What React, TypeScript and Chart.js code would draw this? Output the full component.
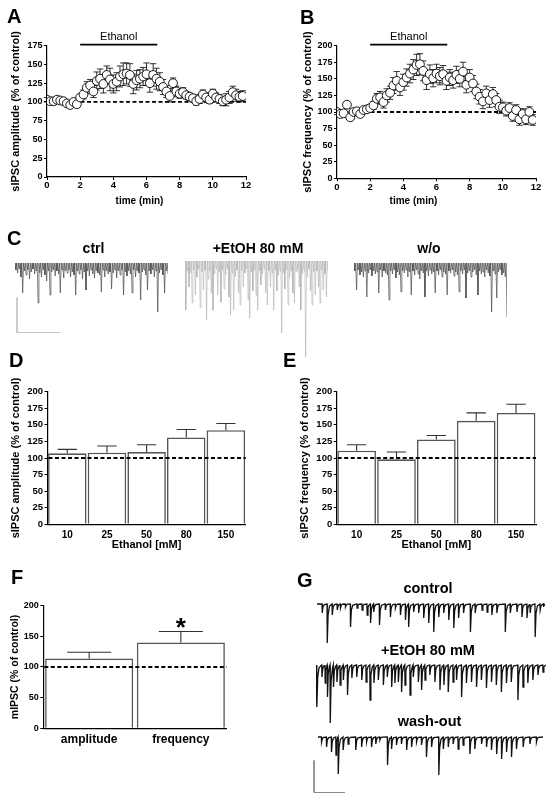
import React, { useEffect, useRef } from "react";
import { Chart, registerables } from "chart.js";

Chart.register(...registerables);

const FONT = "'Liberation Sans', Arial, Helvetica, sans-serif";
Chart.defaults.font.family = FONT;
Chart.defaults.color = "#000";

// ---------------- Panels A & B : time course ----------------
const timeMin = [
  0, 0.2, 0.4, 0.6, 0.8, 1.0, 1.2, 1.4, 1.6, 1.8,
  2.0, 2.2, 2.4, 2.6, 2.8, 3.0, 3.2, 3.4, 3.6, 3.8,
  4.0, 4.2, 4.4, 4.6, 4.8, 5.0, 5.2, 5.4, 5.6, 5.8,
  6.0, 6.2, 6.4, 6.6, 6.8, 7.0, 7.2, 7.4, 7.6, 7.8,
  8.0, 8.2, 8.4, 8.6, 8.8, 9.0, 9.2, 9.4, 9.6, 9.8,
  10.0, 10.2, 10.4, 10.6, 10.8, 11.0, 11.2, 11.4, 11.6, 11.8,
];
const ampPct = [
  103, 101, 101, 103, 102, 101, 98, 96, 100, 97,
  106, 110, 119, 122, 114, 128, 131, 124, 136, 130,
  124, 127, 134, 137, 138, 136, 124, 129, 131, 134,
  137, 125, 136, 131, 127, 120, 114, 108, 125, 114,
  111, 113, 109, 107, 105, 101, 104, 110, 106, 103,
  111, 106, 104, 101, 103, 106, 113, 109, 107, 108,
];
const ampSem = [
  3, 3, 3, 3, 3, 3, 3, 3, 3, 3,
  4, 6, 8, 8, 8, 12, 13, 12, 12, 15,
  12, 12, 14, 15, 14, 15, 13, 13, 12, 12,
  15, 12, 15, 14, 12, 10, 8, 8, 7, 7,
  6, 6, 5, 5, 5, 5, 6, 6, 6, 5,
  6, 6, 6, 6, 8, 8, 8, 8, 7, 7,
];
const freqPct = [
  100, 97, 98, 111, 92, 100, 101, 97, 103, 104,
  106, 110, 120, 122, 115, 125, 129, 140, 147, 137,
  145, 152, 158, 164, 171, 172, 162, 148, 157, 151,
  158, 154, 157, 147, 152, 148, 156, 150, 161, 141,
  152, 143, 131, 123, 116, 128, 118, 127, 118, 108,
  107, 102, 106, 94, 103, 89, 97, 89, 100, 88,
];
const freqSem = [
  4, 4, 4, 5, 4, 4, 4, 4, 4, 4,
  5, 6, 8, 9, 9, 10, 10, 12, 14, 12,
  12, 13, 14, 15, 16, 16, 15, 14, 14, 13,
  14, 13, 13, 13, 12, 12, 13, 12, 14, 12,
  12, 12, 11, 11, 11, 11, 11, 10, 10, 10,
  8, 8, 8, 8, 8, 9, 8, 8, 8, 8,
];
const ethanolOn = 2.0;
const ethanolOff = 6.65;

// ---------------- Panels D & E : concentration ----------------
const ethanolConc = ["10", "25", "50", "80", "150"];
const ampByConc = [107, 108, 109, 131, 142];
const ampByConcSem = [6, 10, 11, 12, 10];
const freqByConc = [111, 98, 128, 156, 168];
const freqByConcSem = [9, 11, 6, 12, 13];

// ---------------- Panel F : mIPSC ----------------
const mipscParams = ["amplitude", "frequency"];
const mipscPct = [114, 140];
const mipscSem = [10, 18];
const mipscSig = ["", "*"];

// ---------------- Panel C : raw traces (event depth per slot) ----------------
const ctrlDepths = [
  5, 8, 4, 12, 28, 6, 10, 5, 14, 7,
  4, 9, 6, 38, 8, 12, 5, 10, 16, 6,
  30, 7, 5, 11, 6, 9, 28, 5, 13, 6,
  8, 5, 12, 7, 10, 30, 6, 9, 5, 14,
  7, 25, 6, 11, 5, 9, 13, 6, 8, 10,
  27, 5, 12, 6, 9, 7, 24, 8, 5, 13,
  6, 10, 5, 30, 7, 11, 6, 9, 28, 5,
  12, 6, 8, 35, 7, 5, 10, 25, 6, 9,
  5, 12, 6, 47, 8, 5, 10, 28, 6, 9,
];
const etohDepths = [
  45, 6, 22, 8, 38, 5, 30, 12, 4, 43,
  7, 25, 5, 55, 14, 6, 28, 45, 9, 4,
  30, 7, 37, 5, 24, 10, 4, 32, 50, 8,
  45, 12, 5, 28, 40, 6, 22, 8, 4, 35,
  53, 7, 26, 5, 30, 45, 6, 20, 9, 4,
  28, 40, 6, 22, 8, 45, 5, 26, 10, 6,
  68, 8, 24, 5, 40, 12, 6, 28, 38, 7,
  5, 22, 45, 9, 6, 92, 12, 4, 26, 40,
  7, 30, 6, 22, 38, 5, 25, 9, 32, 6,
];
const washDepths = [
  6, 25, 5, 10, 7, 12, 6, 32, 8, 5,
  11, 6, 9, 7, 28, 5, 12, 6, 8, 10,
  35, 6, 9, 5, 13, 7, 10, 27, 6, 8,
  5, 12, 7, 30, 6, 10, 5, 9, 14, 6,
  8, 32, 6, 11, 5, 9, 7, 28, 6, 10,
  5, 12, 7, 9, 30, 6, 8, 5, 11, 7,
  10, 27, 6, 9, 5, 33, 8, 6, 12, 7,
  5, 10, 30, 6, 9, 7, 12, 5, 8, 11,
  47, 6, 9, 33, 7, 5, 10, 8, 12, 52,
];
const cScaleBar = { amp: 35, dur: 43 };

// ---------------- Panel G : raw traces ([time, amplitude]) ----------------
const gControlEvents: [number, number][] = [
  [2.2, 9], [4.4, 39], [6.6, 11], [8.8, 6], [10.2, 4], [12.4, 3], [14.6, 23], [17.5, 4],
  [19.7, 6], [21.9, 11], [23.4, 19], [24.8, 8], [27.3, 21], [29.9, 6], [32.1, 13], [34.3, 4],
  [36.5, 11], [38.7, 16], [40.1, 23], [42.3, 8], [44.5, 9], [46.7, 14], [48.9, 19], [51.1, 28],
  [53.3, 13], [55.5, 9], [57.7, 16], [59.9, 24], [62, 14], [64.2, 9], [67.2, 28], [69.3, 9],
  [72.3, 6], [74.5, 8], [76.6, 11], [78.8, 9], [82.5, 28], [84.7, 9], [87.6, 8], [89.8, 13],
  [92, 14], [93.4, 9], [95.6, 33], [97.8, 6], [99.3, 3],
];
const gEtohEvents: [number, number][] = [
  [0.3, 42], [2.5, 12], [3.9, 18], [4.9, 32], [6.1, 58], [7.5, 22], [9, 17], [10.4, 20],
  [11.8, 15], [13.6, 30], [15.5, 13], [17.6, 12], [19.8, 15], [21.7, 17], [23.4, 35], [25.1, 18],
  [27, 15], [29.2, 20], [30.9, 12], [32.8, 22], [34.2, 18], [35.7, 17], [37.1, 27], [38.6, 20],
  [40.8, 30], [42.2, 12], [44.4, 17], [45.8, 25], [47.3, 15], [49.4, 10], [51.6, 17], [53.8, 25],
  [55.5, 20], [57.4, 27], [59.5, 17], [61, 15], [63.2, 32], [65.3, 18], [67.5, 17], [69.7, 22],
  [71.8, 15], [74, 23], [76.2, 17], [78.3, 20], [80.5, 27], [82.7, 18], [84.8, 17], [87.7, 35],
  [89.9, 22], [92, 18], [94.2, 15], [96.4, 10], [98.6, 7],
];
const gWashEvents: [number, number][] = [
  [1.5, 5], [3.7, 10], [5.9, 15], [7.9, 18], [8.9, 37], [11.1, 13], [13.3, 7], [16.7, 13],
  [19.3, 10], [21.5, 5], [23.7, 10], [25.6, 7], [27.4, 3], [30.8, 28], [32.6, 12], [34.8, 8],
  [37, 7], [39.3, 13], [41.5, 10], [43.7, 5], [45.9, 8], [48.1, 20], [50.4, 10], [53.6, 38],
  [55.6, 12], [57.8, 10], [60, 7], [62.2, 12], [64.4, 8], [67.4, 17], [69.6, 12], [72.6, 7],
  [74.8, 10], [77, 13], [79.3, 17], [81.5, 22], [83.7, 15], [85.9, 20], [88.1, 12], [91.1, 10],
  [94.1, 7], [97, 5],
];
const gScaleBar = { amp: 32, dur: 31 };

// ---------------- helpers ----------------
function valueOf(d: any) {
  return typeof d === "number" ? d : d.y;
}

function drawErrors(chart: any, o: any) {
  const ctx = chart.ctx;
  const ys = chart.scales.y;
  const ds = chart.data.datasets[0];
  const meta = chart.getDatasetMeta(0);
  ctx.save();
  ctx.strokeStyle = o.color || "#000";
  ctx.lineWidth = o.width || 1;
  meta.data.forEach((el: any, i: number) => {
    const v = valueOf(ds.data[i]);
    const e = o.errors[i];
    const x = el.x;
    const yTop = ys.getPixelForValue(v + e);
    const yBot = o.mode === "both" ? ys.getPixelForValue(v - e) : ys.getPixelForValue(v);
    const cap = o.capFrac ? el.width * o.capFrac : o.cap;
    ctx.beginPath();
    ctx.moveTo(x, yBot);
    ctx.lineTo(x, yTop);
    ctx.moveTo(x - cap, yTop);
    ctx.lineTo(x + cap, yTop);
    if (o.mode === "both") {
      ctx.moveTo(x - cap, yBot);
      ctx.lineTo(x + cap, yBot);
    }
    ctx.stroke();
  });
  ctx.restore();
}

function drawRef(chart: any, o: any) {
  const ctx = chart.ctx;
  const y = chart.scales.y.getPixelForValue(o.value);
  const a = chart.chartArea;
  ctx.save();
  ctx.strokeStyle = "#000";
  ctx.lineWidth = o.width || 1.8;
  ctx.setLineDash(o.dash || [4, 2.5]);
  ctx.beginPath();
  ctx.moveTo(a.left + 1, y);
  ctx.lineTo(a.right, y);
  ctx.stroke();
  ctx.restore();
}

const errorBars = {
  id: "errorBars",
  beforeDatasetsDraw(chart: any, _a: any, o: any) {
    if (o && o.errors && o.layer === "before") drawErrors(chart, o);
  },
  afterDatasetsDraw(chart: any, _a: any, o: any) {
    if (o && o.errors && o.layer !== "before") drawErrors(chart, o);
  },
};

const refLine = {
  id: "refLine",
  beforeDatasetsDraw(chart: any, _a: any, o: any) {
    if (o && o.value !== undefined && o.layer === "before") drawRef(chart, o);
  },
  afterDatasetsDraw(chart: any, _a: any, o: any) {
    if (o && o.value !== undefined && o.layer !== "before") drawRef(chart, o);
  },
};

const treatmentBar = {
  id: "treatmentBar",
  afterDraw(chart: any, _a: any, o: any) {
    if (!o || o.from === undefined) return;
    const ctx = chart.ctx;
    const xs = chart.scales.x;
    const x1 = xs.getPixelForValue(o.from);
    const x2 = xs.getPixelForValue(o.to);
    const y = chart.chartArea.top - 1;
    ctx.save();
    ctx.strokeStyle = "#000";
    ctx.lineWidth = 1.7;
    ctx.beginPath();
    ctx.moveTo(x1, y);
    ctx.lineTo(x2, y);
    ctx.stroke();
    ctx.fillStyle = "#000";
    ctx.font = `11px ${FONT}`;
    ctx.textAlign = "center";
    ctx.textBaseline = "middle";
    ctx.fillText(o.label, (x1 + x2) / 2, y - 7.5);
    ctx.restore();
  },
};

const sigMarks = {
  id: "sigMarks",
  afterDatasetsDraw(chart: any, _a: any, o: any) {
    if (!o || !o.marks) return;
    const ctx = chart.ctx;
    const ys = chart.scales.y;
    const ds = chart.data.datasets[0];
    const meta = chart.getDatasetMeta(0);
    ctx.save();
    ctx.fillStyle = "#000";
    ctx.font = `bold 26px ${FONT}`;
    ctx.textAlign = "center";
    ctx.textBaseline = "alphabetic";
    meta.data.forEach((el: any, i: number) => {
      const m = o.marks[i];
      if (!m) return;
      const top = ys.getPixelForValue(valueOf(ds.data[i]) + o.errors[i]);
      const tm = ctx.measureText(m);
      const asc = tm.actualBoundingBoxAscent;
      const desc = tm.actualBoundingBoxDescent;
      const centerY = top - 8.5;
      const baseline = centerY + (asc - desc) / 2;
      ctx.fillText(m, el.x, baseline);
    });
    ctx.restore();
  },
};

function yAxis(p: {
  max: number;
  step: number;
  width: number;
  title: string;
  titleSize: number;
  titlePad: number;
  tickSize: number;
}) {
  return {
    type: "linear",
    min: 0,
    max: p.max,
    ticks: {
      stepSize: p.step,
      font: { size: p.tickSize, weight: "bold" },
      color: "#000",
      padding: 1.5,
    },
    grid: { drawOnChartArea: false, drawTicks: true, tickLength: 3, color: "#000", lineWidth: 1 },
    border: { display: true, color: "#000", width: 1.2 },
    title: {
      display: true,
      text: p.title,
      color: "#000",
      font: { size: p.titleSize, weight: "bold" },
      padding: { top: p.titlePad, bottom: 0 },
    },
    afterFit: (s: any) => {
      s.width = p.width;
    },
  };
}

function timeCourseConfig(
  values: number[],
  errs: number[],
  yMax: number,
  yTitle: string,
  geo: { yw: number; xh: number; top: number; right: number; titlePad: number }
) {
  return {
    type: "scatter",
    data: {
      datasets: [
        {
          data: timeMin.map((t, i) => ({ x: t, y: values[i] })),
          pointRadius: 4.4,
          pointBorderWidth: 0.9,
          pointBackgroundColor: "#fff",
          pointBorderColor: "#000",
          showLine: false,
        },
      ],
    },
    options: {
      animation: false,
      responsive: false,
      devicePixelRatio: 1,
      layout: { padding: { left: 0, top: geo.top, right: geo.right, bottom: 0 } },
      plugins: {
        legend: { display: false },
        tooltip: { enabled: false },
        errorBars: { errors: errs, mode: "both", cap: 3.2, layer: "before", width: 0.8 },
        refLine: { value: 100, layer: "before", width: 1.8 },
        treatmentBar: { from: ethanolOn, to: ethanolOff, label: "Ethanol" },
      },
      scales: {
        x: {
          type: "linear",
          min: 0,
          max: 12,
          ticks: { stepSize: 2, font: { size: 9.5, weight: "bold" }, color: "#000", padding: 0 },
          grid: { drawOnChartArea: false, drawTicks: true, tickLength: 3, color: "#000" },
          border: { display: true, color: "#000", width: 1.2 },
          afterFit: (s: any) => {
            s.height = geo.xh;
          },
        },
        y: yAxis({
          max: yMax,
          step: 25,
          width: geo.yw,
          title: yTitle,
          titleSize: 11,
          titlePad: geo.titlePad,
          tickSize: 9,
        }),
      },
    },
    plugins: [errorBars, refLine, treatmentBar],
  };
}

function barConfig(p: {
  labels: string[];
  values: number[];
  errs: number[];
  yMax: number;
  yStep: number;
  yTitle: string;
  yTitleSize: number;
  yTitlePad: number;
  yTickSize: number;
  xTickSize: number;
  xTickPad: number;
  xTitle?: string;
  xTitlePad?: number;
  yw: number;
  xh: number;
  top: number;
  right: number;
  barPct: number;
  marks?: string[];
}) {
  return {
    type: "bar",
    data: {
      labels: p.labels,
      datasets: [
        {
          data: p.values,
          backgroundColor: "#fff",
          borderColor: "#555",
          borderWidth: 1.6,
          barPercentage: p.barPct,
          categoryPercentage: 1,
        },
      ],
    },
    options: {
      animation: false,
      responsive: false,
      devicePixelRatio: 1,
      layout: { padding: { left: 0, top: p.top, right: p.right, bottom: 0 } },
      plugins: {
        legend: { display: false },
        tooltip: { enabled: false },
        errorBars: { errors: p.errs, mode: "up", capFrac: 0.25, layer: "after", color: "#333", width: 1.1 },
        refLine: { value: 100, layer: "after", width: 1.8 },
        sigMarks: p.marks ? { marks: p.marks, errors: p.errs } : {},
      },
      scales: {
        x: {
          type: "category",
          ticks: { font: { size: p.xTickSize, weight: "bold" }, color: "#000", padding: p.xTickPad },
          grid: { display: false, drawTicks: false, tickLength: 0 },
          border: { display: true, color: "#000", width: 1.2 },
          title: p.xTitle
            ? {
                display: true,
                text: p.xTitle,
                color: "#000",
                font: { size: 11, weight: "bold" },
                padding: { top: 0, bottom: p.xTitlePad },
              }
            : { display: false },
          afterFit: (s: any) => {
            s.height = p.xh;
          },
        },
        y: yAxis({
          max: p.yMax,
          step: p.yStep,
          width: p.yw,
          title: p.yTitle,
          titleSize: p.yTitleSize,
          titlePad: p.yTitlePad,
          tickSize: p.yTickSize,
        }),
      },
    },
    plugins: [errorBars, refLine, sigMarks],
  };
}

function zigzagTrace(depths: number[], up: number) {
  const pts: { x: number; y: number }[] = [];
  depths.forEach((d, i) => {
    pts.push({ x: i, y: up });
    pts.push({ x: i + 0.5, y: -d });
  });
  return pts;
}

function eventTrace(events: [number, number][], end: number) {
  const pts: { x: number; y: number }[] = [{ x: 0, y: 0 }];
  events.forEach(([t, d], k) => {
    const next = k + 1 < events.length ? events[k + 1][0] : end;
    const room = Math.min(1.2, next - t - 0.15);
    pts.push({ x: t, y: 0 });
    pts.push({ x: t + 0.1, y: -d });
    pts.push({ x: t + 0.1 + room * 0.3, y: -d * 0.28 });
    pts.push({ x: t + 0.1 + room * 0.8, y: -d * 0.06 });
  });
  pts.push({ x: end, y: 0 });
  return pts;
}

function traceConfig(
  pts: { x: number; y: number }[],
  color: string,
  width: number,
  xr: [number, number],
  yr: [number, number]
) {
  return {
    type: "line",
    data: {
      datasets: [
        {
          data: pts,
          borderColor: color,
          borderWidth: width,
          pointRadius: 0,
          tension: 0,
          fill: false,
        },
      ],
    },
    options: {
      animation: false,
      responsive: false,
      devicePixelRatio: 1,
      layout: { padding: 0 },
      plugins: { legend: { display: false }, tooltip: { enabled: false } },
      scales: {
        x: { type: "linear", min: xr[0], max: xr[1], display: false },
        y: { type: "linear", min: yr[0], max: yr[1], display: false },
      },
    },
  };
}

function scaleBarPoints(bar: { amp: number; dur: number }) {
  return [
    { x: 0, y: bar.amp },
    { x: 0, y: 0 },
    { x: bar.dur, y: 0 },
  ];
}

function ChartBox(props: { left: number; top: number; width: number; height: number; make: () => any }) {
  const ref = useRef<HTMLCanvasElement>(null);
  useEffect(() => {
    const chart = new Chart(ref.current as HTMLCanvasElement, props.make());
    return () => chart.destroy();
  }, []);
  return (
    <canvas
      ref={ref}
      width={props.width}
      height={props.height}
      style={{ position: "absolute", left: props.left, top: props.top, width: props.width, height: props.height }}
    />
  );
}

function Letter({ x, y, children }: { x: number; y: number; children: string }) {
  return (
    <div
      style={{
        position: "absolute",
        left: Math.round(x - 1),
        top: Math.round(y - 3),
        fontFamily: FONT,
        fontWeight: "bold",
        fontSize: 20,
        lineHeight: "20px",
        color: "#000",
        willChange: "transform",
      }}
    >
      {children}
    </div>
  );
}

function Label({ cx, cy, size, children }: { cx: number; cy: number; size: number; children: string }) {
  return (
    <div
      style={{
        position: "absolute",
        left: cx,
        top: cy,
        transform: "translate(-50%, -50%)",
        fontFamily: FONT,
        fontWeight: "bold",
        fontSize: size,
        lineHeight: 1,
        whiteSpace: "nowrap",
        color: "#000",
      }}
    >
      {children}
    </div>
  );
}

export default function App() {
  return (
    <div
      style={{
        position: "fixed",
        left: 0,
        top: 0,
        width: 556,
        height: 802,
        background: "#fff",
        overflow: "hidden",
      }}
    >
      {/* A */}
      <ChartBox
        left={0}
        top={30}
        width={256}
        height={180}
        make={() =>
          timeCourseConfig(ampPct, ampSem, 175, "sIPSC amplitude (% of control)", {
            yw: 47,
            xh: 33,
            top: 15.7,
            right: 10,
            titlePad: 9.4,
          })
        }
      />
      {/* B */}
      <ChartBox
        left={290}
        top={30}
        width={256}
        height={180}
        make={() =>
          timeCourseConfig(freqPct, freqSem, 200, "sIPSC frequency (% of control)", {
            yw: 47,
            xh: 31.7,
            top: 15.7,
            right: 10,
            titlePad: 11.1,
          })
        }
      />
      <Label cx={139.5} cy={201} size={10}>time (min)</Label>
      <Label cx={413.5} cy={201} size={10}>time (min)</Label>

      {/* C */}
      <ChartBox left={15} top={255} width={153} height={100} make={() => traceConfig(zigzagTrace(ctrlDepths, 2), "#4a4a4a", 0.7, [0, 89.5], [-90, 10])} />
      <ChartBox left={185} top={255} width={143} height={105} make={() => traceConfig(zigzagTrace(etohDepths, 4), "#b0b0b0", 0.6, [0, 89.5], [-95, 10])} />
      <ChartBox left={354} top={255} width={153} height={100} make={() => traceConfig(zigzagTrace(washDepths, 2), "#4a4a4a", 0.7, [0, 89.5], [-90, 10])} />
      <ChartBox
        left={16}
        top={296}
        width={46}
        height={38}
        make={() => traceConfig(scaleBarPoints(cScaleBar), "#c4c4c4", 1, [-1, 45], [-1.5, 36.5])}
      />
      <Label cx={93.5} cy={248} size={14}>ctrl</Label>
      <Label cx={258} cy={248} size={14}>+EtOH 80 mM</Label>
      <Label cx={429} cy={248} size={14}>w/o</Label>

      {/* D */}
      <ChartBox
        left={0}
        top={375}
        width={256}
        height={185}
        make={() =>
          barConfig({
            labels: ethanolConc,
            values: ampByConc,
            errs: ampByConcSem,
            yMax: 200,
            yStep: 25,
            yTitle: "sIPSC amplitude (% of control)",
            yTitleSize: 11,
            yTitlePad: 9.4,
            yTickSize: 9.5,
            xTickSize: 10,
            xTickPad: 4.7,
            xTitle: "Ethanol [mM]",
            xTitlePad: 8.4,
            yw: 47.5,
            xh: 35.7,
            top: 16.7,
            right: 10.3,
            barPct: 0.97,
          })
        }
      />
      {/* E */}
      <ChartBox
        left={290}
        top={375}
        width={256}
        height={185}
        make={() =>
          barConfig({
            labels: ethanolConc,
            values: freqByConc,
            errs: freqByConcSem,
            yMax: 200,
            yStep: 25,
            yTitle: "sIPSC frequency (% of control)",
            yTitleSize: 11,
            yTitlePad: 8.4,
            yTickSize: 9.5,
            xTickSize: 10,
            xTickPad: 4.7,
            xTitle: "Ethanol [mM]",
            xTitlePad: 8.4,
            yw: 46.7,
            xh: 35.7,
            top: 16.7,
            right: 10,
            barPct: 0.97,
          })
        }
      />
      {/* F */}
      <ChartBox
        left={0}
        top={590}
        width={240}
        height={165}
        make={() =>
          barConfig({
            labels: mipscParams,
            values: mipscPct,
            errs: mipscSem,
            yMax: 200,
            yStep: 50,
            yTitle: "mIPSC (% of control)",
            yTitleSize: 10.5,
            yTitlePad: 8.7,
            yTickSize: 9,
            xTickSize: 12,
            xTickPad: 4.5,
            yw: 43.3,
            xh: 26.7,
            top: 15.7,
            right: 13.3,
            barPct: 0.96,
            marks: mipscSig,
          })
        }
      />

      {/* G */}
      <ChartBox left={317} top={594} width={228} height={52} make={() => traceConfig(eventTrace(gControlEvents, 100), "#111", 1.3, [0, 100], [-42, 10])} />
      <ChartBox left={316} top={655} width={230} height={72} make={() => traceConfig(eventTrace(gEtohEvents, 100), "#111", 1.3, [0, 100], [-62, 10])} />
      <ChartBox left={318} top={727} width={225} height={52} make={() => traceConfig(eventTrace(gWashEvents, 100), "#111", 1.3, [0, 100], [-42, 10])} />
      <ChartBox
        left={313}
        top={759}
        width={34}
        height={35}
        make={() => traceConfig(scaleBarPoints(gScaleBar), "#8a8a8a", 1, [-1, 33], [-1.5, 33.5])}
      />
      <Label cx={428} cy={588} size={14.5}>control</Label>
      <Label cx={428} cy={650} size={14.5}>+EtOH 80 mM</Label>
      <Label cx={429.5} cy={721} size={14.5}>wash-out</Label>

      <Letter x={8} y={9}>A</Letter>
      <Letter x={301} y={10}>B</Letter>
      <Letter x={8} y={231}>C</Letter>
      <Letter x={10} y={353}>D</Letter>
      <Letter x={284} y={353}>E</Letter>
      <Letter x={12} y={570}>F</Letter>
      <Letter x={298} y={573}>G</Letter>
    </div>
  );
}
